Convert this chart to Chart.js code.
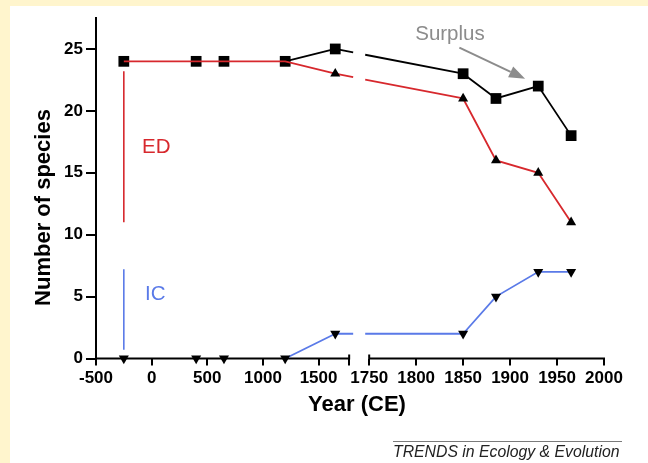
<!DOCTYPE html>
<html><head><meta charset="utf-8">
<script src="https://cdn.jsdelivr.net/npm/chart.js@4.4.1/dist/chart.umd.min.js"></script>
<style>html,body{margin:0;padding:0;background:#fff;}canvas{display:block;}</style>
</head><body>
<canvas id="c" width="648" height="463"></canvas>
<script>
// ---------------- data ----------------
const years = [-250, 400, 650, 1200, 1650, 1850, 1885, 1930, 1965];
const totalSpecies = [24, 24, 24, 24, 25, 23, 21, 22, 18];   // squares (ED + surplus)
const edSpecies    = [24, 24, 24, 24, 23, 21, 16, 15, 11];   // triangles (ED)
const icSpecies    = [0, 0, 0, 0, 2, 2, 5, 7, 7];            // inverted triangles (IC)
const edBarYear = -250, edBarRange = [11, 23.2];
const icBarYear = -250, icBarRange = [0.7, 7.2];
const leftTickYears  = [-500, 0, 500, 1000, 1500];
const rightTickYears = [1750, 1800, 1850, 1900, 1950, 2000];
const yTickValues = [0, 5, 10, 15, 20, 25];
const divergeFrom = 3; // index of the last shared point (lines split after it)

// ---------------- broken x axis ----------------
const LEFT_MIN = -500, LEFT_MAX = 1775, RIGHT_MIN = 1750, RIGHT_MAX = 2000;
const GAP = 180, RIGHT_STRETCH = 8.44;
function vx(year, side) {
  side = side || (year < RIGHT_MIN ? 'L' : 'R');
  return side === 'L' ? year : LEFT_MAX + GAP + (year - RIGHT_MIN) * RIGHT_STRETCH;
}
const xTicks = [
  ...leftTickYears.map(y => ({ v: vx(y, 'L'), t: String(y) })),
  { v: LEFT_MAX, t: '' },
  ...rightTickYears.map(y => ({ v: vx(y, 'R'), t: String(y) }))
];

const RED = '#d7282d', BLUE = '#5a7ae8', GREY = '#8c8c8c', FONT = "'Liberation Sans', Arial, sans-serif";

function pts(vals) { return years.map((y, i) => ({ x: vx(y), y: vals[i] })); }

function breakDash(ctx) {
  const xs = ctx.chart.scales.x;
  const g0 = xs.getPixelForValue(LEFT_MAX) + 4;
  const g1 = xs.getPixelForValue(vx(RIGHT_MIN, 'R')) - 4;
  const p0 = ctx.p0, p1 = ctx.p1;
  if (!(p0.x < g0 && p1.x > g1)) return undefined;
  const f = Math.hypot(p1.x - p0.x, p1.y - p0.y) / (p1.x - p0.x);
  return [(g0 - p0.x) * f, (g1 - g0) * f, 3000];
}
const hideEarly = col => ctx => (ctx.p1DataIndex <= divergeFrom ? 'rgba(0,0,0,0)' : col);

const decor = {
  id: 'decor',
  beforeDraw(chart) {
    const c = chart.ctx;
    c.save();
    c.fillStyle = '#fff5cd';
    c.fillRect(0, 0, chart.width, chart.height);
    c.fillStyle = '#ffffff';
    c.fillRect(10, 6, chart.width - 10, chart.height - 6);
    c.restore();
  },
  beforeDatasetsDraw(chart) {
    const c = chart.ctx, xs = chart.scales.x, ys = chart.scales.y;
    const y0 = ys.getPixelForValue(0);
    const segs = [[vx(LEFT_MIN, 'L'), LEFT_MAX], [vx(RIGHT_MIN, 'R'), vx(RIGHT_MAX, 'R')]];
    c.save();
    c.strokeStyle = '#000'; c.lineWidth = 2;
    c.beginPath();
    segs.forEach(([a, b]) => { c.moveTo(xs.getPixelForValue(a) - 1, y0); c.lineTo(xs.getPixelForValue(b) + 1, y0); });
    [LEFT_MAX, vx(RIGHT_MIN, 'R')].forEach(v => { const p = xs.getPixelForValue(v); c.moveTo(p, y0 - 4); c.lineTo(p, y0); });
    c.stroke();
    c.restore();
  },
  afterDraw(chart) {
    const c = chart.ctx, xs = chart.scales.x, ys = chart.scales.y;
    const X = (yr, side) => xs.getPixelForValue(vx(yr, side)), Y = v => ys.getPixelForValue(v);
    c.save();
    c.textBaseline = 'alphabetic'; c.textAlign = 'left';
    c.font = `20.5px ${FONT}`;
    c.fillStyle = RED; c.fillText('ED', X(-87, 'L'), Y(16.6));
    c.fillStyle = BLUE; c.fillText('IC', X(-60, 'L'), Y(4.7));
    c.fillStyle = GREY; c.fillText('Surplus', X(1799, 'R'), Y(25.7));
    // arrow
    const ax0 = X(1846, 'R'), ay0 = Y(25.1), ax1 = X(1916, 'R'), ay1 = Y(22.6);
    const ang = Math.atan2(ay1 - ay0, ax1 - ax0), hl = 16, hw = 6;
    const bx = ax1 - Math.cos(ang) * hl, by = ay1 - Math.sin(ang) * hl;
    c.strokeStyle = GREY; c.lineWidth = 2;
    c.beginPath(); c.moveTo(ax0, ay0); c.lineTo(bx, by); c.stroke();
    c.beginPath();
    c.moveTo(ax1, ay1);
    c.lineTo(bx + Math.sin(ang) * hw, by - Math.cos(ang) * hw);
    c.lineTo(bx - Math.sin(ang) * hw, by + Math.cos(ang) * hw);
    c.closePath(); c.fillStyle = GREY; c.fill();
    // axis titles
    c.fillStyle = '#000';
    c.font = `bold 22px ${FONT}`;
    c.textAlign = 'center';
    c.fillText('Year (CE)', 357, 411);
    c.save();
    c.translate(50, 207.5); c.rotate(-Math.PI / 2);
    c.fillText('Number of species', 0, 0);
    c.restore();
    // footer
    c.strokeStyle = '#7a7a7a'; c.lineWidth = 1;
    c.beginPath(); c.moveTo(393, 441.5); c.lineTo(622, 441.5); c.stroke();
    c.fillStyle = '#222'; c.textAlign = 'left';
    c.font = `italic 15.8px ${FONT}`;
    c.fillText('TRENDS in Ecology & Evolution', 393, 457);
    c.restore();
  }
};

new Chart(document.getElementById('c'), {
  type: 'line',
  data: {
    datasets: [
      { label: 'ED bar', data: edBarRange.map(v => ({ x: vx(edBarYear), y: v })), borderColor: RED, borderWidth: 1.6, pointRadius: 0, clip: false },
      { label: 'IC bar', data: icBarRange.map(v => ({ x: vx(icBarYear), y: v })), borderColor: BLUE, borderWidth: 1.6, pointRadius: 0, clip: false },
      { label: 'IC', data: pts(icSpecies), borderColor: BLUE, borderWidth: 1.8,
        segment: { borderColor: hideEarly(BLUE), borderDash: breakDash },
        pointStyle: 'triangle', rotation: 180, pointRadius: 5.8, pointBackgroundColor: '#000', pointBorderWidth: 0, clip: false },
      { label: 'ED', data: pts(edSpecies), borderColor: RED, borderWidth: 1.8,
        segment: { borderDash: breakDash },
        pointStyle: 'triangle', pointRadius: ctx => (ctx.dataIndex <= divergeFrom ? 0 : 5.8), pointBackgroundColor: '#000', pointBorderWidth: 0, clip: false },
      { label: 'Total', data: pts(totalSpecies), borderColor: '#000', borderWidth: 1.8,
        segment: { borderColor: hideEarly('#000'), borderDash: breakDash },
        pointStyle: 'rect', pointRadius: 7.6, pointBackgroundColor: '#000', pointBorderWidth: 0, clip: false }
    ]
  },
  options: {
    responsive: false, animation: false,
    layout: { padding: { left: 0, right: 44, top: 18, bottom: 0 } },
    plugins: { legend: { display: false }, tooltip: { enabled: false } },
    elements: { line: { tension: 0 } },
    scales: {
      x: {
        type: 'linear', min: vx(LEFT_MIN, 'L'), max: vx(RIGHT_MAX, 'R'),
        afterFit(s) { s.height = 463 - 358.5; },
        afterBuildTicks(s) { s.ticks = xTicks.map(t => ({ value: t.v })); },
        border: { display: false },
        grid: { drawOnChartArea: false, drawTicks: true, tickLength: 7, color: '#000', lineWidth: 2 },
        ticks: { autoSkip: false, maxRotation: 0, minRotation: 0, padding: 3, color: '#000',
          font: { family: FONT, size: 17, weight: 'bold' },
          callback: (v, i) => (xTicks[i] ? xTicks[i].t : '') }
      },
      y: {
        min: 0, max: 27.5,
        afterFit(s) { s.width = 96; },
        afterBuildTicks(s) { s.ticks = yTickValues.map(v => ({ value: v })); },
        border: { display: true, color: '#000', width: 2 },
        grid: { drawOnChartArea: false, drawTicks: true, tickLength: 10, color: '#000', lineWidth: 2 },
        ticks: { padding: 3, color: '#000', font: { family: FONT, size: 17, weight: 'bold' } }
      }
    }
  },
  plugins: [decor]
});
</script>
</body></html>
